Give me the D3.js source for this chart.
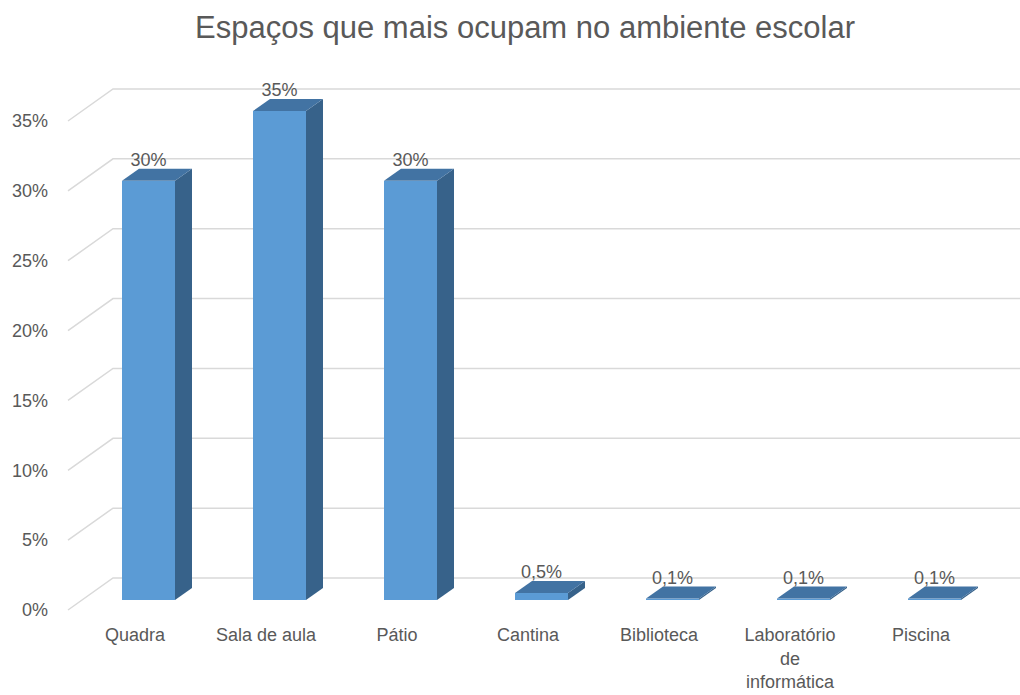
<!DOCTYPE html>
<html>
<head>
<meta charset="utf-8">
<script src="https://cdn.jsdelivr.net/npm/d3@7"></script>
<style>
  body { margin: 0; background: #fff; }
  text { font-family: "Liberation Sans", Arial, sans-serif; fill: #595959; }
</style>
</head>
<body>
<div id="chart"></div>
<script>
const categories = ["Quadra", "Sala de aula", "Pátio", "Cantina", "Biblioteca", "Laboratório de informática", "Piscina"];
const categoryLines = [["Quadra"], ["Sala de aula"], ["Pátio"], ["Cantina"], ["Biblioteca"], ["Laboratório", "de", "informática"], ["Piscina"]];
const values = [30, 35, 30, 0.5, 0.1, 0.1, 0.1];
const valueLabels = ["30%", "35%", "30%", "0,5%", "0,1%", "0,1%", "0,1%"];
const yTicks = [0, 5, 10, 15, 20, 25, 30, 35];

const width = 1020;
const height = 695;
const depth = { dx: 17, dy: -12 };     // bar depth
const wall = { dx: 45, dy: -32 };      // floor / wall depth

const svg = d3.select("#chart").append("svg")
  .attr("width", width)
  .attr("height", height);

// front plane scale for the bars
const y = d3.scaleLinear().domain([0, 35]).range([600, 111]);

const x = d3.scaleBand()
  .domain(categories)
  .range([69.5, 986.5]);

const barW = 53;
const barLeft = d => x(d) + x.bandwidth() / 2 - 13;

// title
svg.append("text")
  .attr("x", 525)
  .attr("y", 38)
  .attr("text-anchor", "middle")
  .style("font-size", "31px")
  .text("Espaços que mais ocupam no ambiente escolar");

// gridlines (left wall diagonal + back wall horizontal)
const grid = svg.append("g").attr("class", "grid");
yTicks.forEach(t => {
  const yw = y(t) + 10;
  grid.append("path")
    .attr("d", `M68,${yw} L${68 + wall.dx},${yw + wall.dy} L${width},${yw + wall.dy}`)
    .attr("fill", "none")
    .attr("stroke", "#d9d9d9")
    .attr("stroke-width", 1.5);
});

// y axis labels
const yAxis = svg.append("g")
  .attr("transform", "translate(56,10)")
  .call(d3.axisLeft(y).tickValues(yTicks).tickFormat(d => d + "%").tickSize(0).tickPadding(8));
yAxis.select(".domain").remove();
yAxis.selectAll("text")
  .attr("fill", "#595959")
  .style("font-size", "18px")
  .style("font-family", "'Liberation Sans', Arial, sans-serif");

// bars
const bars = svg.append("g").selectAll("g")
  .data(categories)
  .enter().append("g");

bars.append("rect")
  .attr("x", d => barLeft(d))
  .attr("y", (d, i) => y(values[i]))
  .attr("width", barW)
  .attr("height", (d, i) => y(0) - y(values[i]))
  .attr("fill", "#5b9bd5");

bars.append("path")
  .attr("d", (d, i) => {
    const r = barLeft(d) + barW, t = y(values[i]), b = y(0);
    return `M${r},${t} L${r + depth.dx},${t + depth.dy} L${r + depth.dx},${b + depth.dy} L${r},${b} Z`;
  })
  .attr("fill", "#37628a");

bars.append("path")
  .attr("d", (d, i) => {
    const l = barLeft(d), r = l + barW, t = y(values[i]);
    return `M${l},${t} L${r},${t} L${r + depth.dx},${t + depth.dy} L${l + depth.dx},${t + depth.dy} Z`;
  })
  .attr("fill", "#4273a3");

// value labels
bars.append("text")
  .attr("x", d => barLeft(d) + barW / 2)
  .attr("y", (d, i) => y(values[i]) - 15)
  .attr("text-anchor", "middle")
  .style("font-size", "18px")
  .text((d, i) => valueLabels[i]);

// category labels
const catLabels = svg.append("g").selectAll("text")
  .data(categories)
  .enter().append("text")
  .attr("x", d => x(d) + x.bandwidth() / 2)
  .attr("y", 641)
  .attr("text-anchor", "middle")
  .style("font-size", "18px");

catLabels.selectAll("tspan")
  .data((d, i) => categoryLines[i])
  .enter().append("tspan")
  .attr("x", function () { return this.parentNode.getAttribute("x"); })
  .attr("dy", (d, j) => j === 0 ? 0 : 23.5)
  .text(d => d);
</script>
</body>
</html>
